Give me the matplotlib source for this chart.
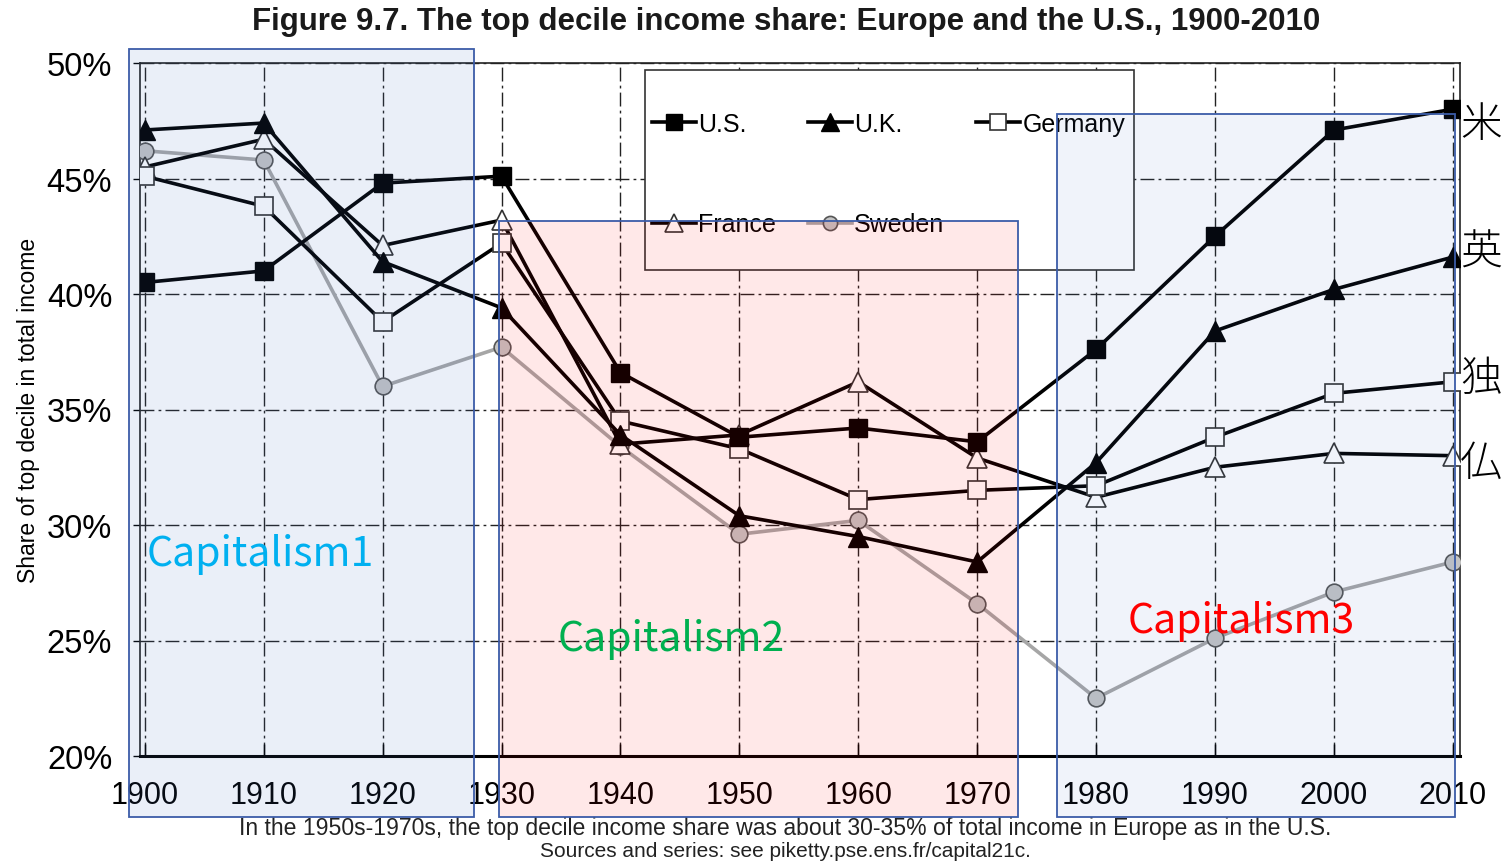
import matplotlib
matplotlib.use("Agg")
import matplotlib.pyplot as plt
from matplotlib.patches import Rectangle

plt.rcParams['font.family'] = ['Liberation Sans', 'DejaVu Sans']

# === données ===
years = [1900, 1910, 1920, 1930, 1940, 1950, 1960, 1970, 1980, 1990, 2000, 2010]
us = [40.5, 41.0, 44.8, 45.1, 36.6, 33.8, 34.2, 33.6, 37.6, 42.5, 47.1, 48.0]
uk = [47.1, 47.4, 41.4, 39.4, 33.9, 30.4, 29.5, 28.4, 32.7, 38.4, 40.2, 41.6]
germany = [45.1, 43.8, 38.8, 42.2, 34.5, 33.3, 31.1, 31.5, 31.7, 33.8, 35.7, 36.2]
france = [45.5, 46.7, 42.1, 43.2, 33.5, 33.9, 36.2, 32.9, 31.2, 32.5, 33.1, 33.0]
sweden = [46.2, 45.8, 36.0, 37.7, 33.4, 29.6, 30.2, 26.6, 22.5, 25.1, 27.1, 28.4]

yticks = [20, 25, 30, 35, 40, 45, 50]
country_kanji = ['米', '英', '独', '仏']
kanji_values = [us[-1], uk[-1], germany[-1], france[-1]]

W, H = 1506, 862
fig, ax = plt.subplots(figsize=(W / 100, H / 100), dpi=100)
fig.subplots_adjust(left=140 / W, right=1460 / W, bottom=1 - 757 / H, top=1 - 64 / H)

# === courbes ===
l_sw, = ax.plot(years, sweden, color='#a6a6a6', lw=2.6, marker='o', ms=12,
                mfc='#c4c4c4', mec='#555555', mew=1.2, zorder=3)
l_fr, = ax.plot(years, france, color='black', lw=2.6, marker='^', ms=15,
                mfc='white', mec='#333333', mew=1.2, zorder=4)
l_de, = ax.plot(years, germany, color='black', lw=2.6, marker='s', ms=13,
                mfc='white', mec='#333333', mew=1.2, zorder=4)
l_uk, = ax.plot(years, uk, color='black', lw=2.6, marker='^', ms=15,
                mfc='black', mec='black', zorder=5)
l_us, = ax.plot(years, us, color='black', lw=2.6, marker='s', ms=13,
                mfc='black', mec='black', zorder=5)

ax.set_xlim(1899.6, 2010.6)
ax.set_ylim(20, 50)
ax.set_xticks(years)
ax.set_xticklabels([str(y) for y in years], fontsize=22)
ax.set_yticks(yticks)
ax.set_yticklabels([f"{v}%" for v in yticks], fontsize=23.5)
ax.grid(True, color='#222222', lw=1.0, linestyle=(0, (10, 3, 2, 3)))
ax.tick_params(axis='x', direction='in', length=9, width=1, pad=17)
ax.tick_params(axis='y', direction='out', length=5, width=1, pad=15)
for side in ['top', 'right', 'left']:
    ax.spines[side].set_color('#222222')
    ax.spines[side].set_linewidth(1.2)
ax.spines['bottom'].set_linewidth(2.2)
ax.set_ylabel("Share of top decile in total income", fontsize=16.5, labelpad=5)

# cadre de la légende
ax.add_patch(Rectangle(((645 - 140) / 1320, (757 - 271) / 693), 489 / 1320, 200 / 693,
                       transform=ax.transAxes, facecolor='white', edgecolor='#333333',
                       lw=1.2, zorder=6, clip_on=False))
# légende (ordre pour remplir ligne par ligne)
leg = ax.legend([l_us, l_fr, l_uk, l_sw, l_de],
                ['U.S.', 'France', 'U.K.', 'Sweden', 'Germany'],
                ncol=3, loc='upper left', mode='expand',
                bbox_to_anchor=((652 - 140) / 1320, (757 - 113) / 693, 473 / 1320, 0),
                fontsize=18, frameon=False, borderpad=0, labelspacing=3.05,
                handlelength=1.75, handletextpad=0.1, markerscale=0.85,
                borderaxespad=0)
leg.set_zorder(7)

# === titre et notes ===
fig.text(786 / W, 1 - 22 / H,
         "Figure 9.7. The top decile income share: Europe and the U.S., 1900-2010",
         ha='center', va='center', fontsize=22.5, fontweight='bold', color='#1a1a1a')
fig.text(785 / W, 1 - 829 / H,
         "In the 1950s-1970s, the top decile income share was about 30-35% of total income in Europe as in the U.S.",
         ha='center', va='center', fontsize=16.6, color='#222222')
fig.text(785 / W, 1 - 852 / H,
         "Sources and series: see piketty.pse.ens.fr/capital21c.",
         ha='center', va='center', fontsize=15, color='#222222')

# === cadres "Capitalism" par-dessus le graphique ===
boxes = [((129, 50, 474, 818), '#4472c4', 0.11),
         ((499, 222, 1018, 818), '#ff0000', 0.09),
         ((1057, 115, 1455, 818), '#4472c4', 0.08)]
for (x0, y0, x1, y1), fc, a in boxes:
    fig.add_artist(Rectangle((x0 / W, 1 - y1 / H), (x1 - x0) / W, (y1 - y0) / H,
                             transform=fig.transFigure, facecolor=fc, alpha=a,
                             edgecolor='none', zorder=10))
    fig.add_artist(Rectangle((x0 / W, 1 - y1 / H), (x1 - x0) / W, (y1 - y0) / H,
                             transform=fig.transFigure, facecolor='none',
                             edgecolor='#3b5ca8', lw=1.3, zorder=11))

cjk = ['Noto Sans CJK JP', 'DejaVu Sans']
fig.text(147 / W, 1 - 555 / H, "Capitalism1", color='#00b0f0', fontsize=29.5,
         family=cjk, va='center', ha='left', zorder=12)
fig.text(558 / W, 1 - 640 / H, "Capitalism2", color='#00b050', fontsize=29.5,
         family=cjk, va='center', ha='left', zorder=12)
fig.text(1128 / W, 1 - 622 / H, "Capitalism3", color='#ff0000', fontsize=29.5,
         family=cjk, va='center', ha='left', zorder=12)

# étiquettes des pays à droite
kanji_offsets = [-0.65, 0.23, 0.14, -0.33]
for k, v, off in zip(country_kanji, kanji_values, kanji_offsets):
    ax.annotate(k, xy=(2010, v + off), xytext=(5, 0), textcoords='offset points',
                fontsize=30, family=cjk, fontweight='light', va='center',
                ha='left', annotation_clip=False, zorder=12)

fig.savefig("out.png", dpi=100)
